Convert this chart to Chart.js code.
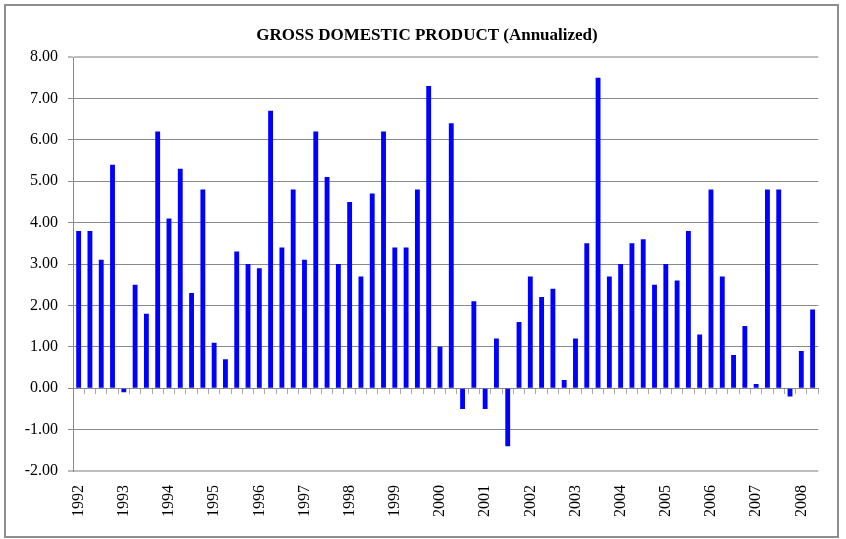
<!DOCTYPE html>
<html>
<head>
<meta charset="utf-8">
<script src="https://cdn.jsdelivr.net/npm/chart.js@4/dist/chart.umd.min.js"></script>
<style>
  html, body { margin: 0; padding: 0; background: #ffffff; }
  #wrap { position: relative; width: 846px; height: 539px; }
  #frame { position: absolute; left: 4px; top: 4px; width: 835px; height: 534px;
           box-sizing: border-box; border: 2px solid #8e8e8e; pointer-events: none; }
  canvas { position: absolute; left: 0; top: 0; }
</style>
</head>
<body>
<div id="wrap">
  <canvas id="c" width="846" height="539"></canvas>
  <div id="frame"></div>
</div>
<script>
// Quarterly categories, 1992 Q1 .. 2008 Q2
const categories = [
  '1992Q1','1992Q2','1992Q3','1992Q4','1993Q1','1993Q2','1993Q3','1993Q4',
  '1994Q1','1994Q2','1994Q3','1994Q4','1995Q1','1995Q2','1995Q3','1995Q4',
  '1996Q1','1996Q2','1996Q3','1996Q4','1997Q1','1997Q2','1997Q3','1997Q4',
  '1998Q1','1998Q2','1998Q3','1998Q4','1999Q1','1999Q2','1999Q3','1999Q4',
  '2000Q1','2000Q2','2000Q3','2000Q4','2001Q1','2001Q2','2001Q3','2001Q4',
  '2002Q1','2002Q2','2002Q3','2002Q4','2003Q1','2003Q2','2003Q3','2003Q4',
  '2004Q1','2004Q2','2004Q3','2004Q4','2005Q1','2005Q2','2005Q3','2005Q4',
  '2006Q1','2006Q2','2006Q3','2006Q4','2007Q1','2007Q2','2007Q3','2007Q4',
  '2008Q1','2008Q2'
];
// GDP growth, annualized (%)
const gdpValues = [
  3.8, 3.8, 3.1, 5.4, -0.1, 2.5, 1.8, 6.2,
  4.1, 5.3, 2.3, 4.8, 1.1, 0.7, 3.3, 3.0,
  2.9, 6.7, 3.4, 4.8, 3.1, 6.2, 5.1, 3.0,
  4.5, 2.7, 4.7, 6.2, 3.4, 3.4, 4.8, 7.3,
  1.0, 6.4, -0.5, 2.1, -0.5, 1.2, -1.4, 1.6,
  2.7, 2.2, 2.4, 0.2, 1.2, 3.5, 7.5, 2.7,
  3.0, 3.5, 3.6, 2.5, 3.0, 2.6, 3.8, 1.3,
  4.8, 2.7, 0.8, 1.5, 0.1, 4.8, 4.8, -0.2,
  0.9, 1.9
];
// Year tick labels, one every 4 quarters
const tickLabels = ['1992','1993','1994','1995','1996','1997','1998','1999','2000',
                    '2001','2002','2003','2004','2005','2006','2007','2008'];
const quartersPerLabel = 4;
const yMin = -2, yMax = 8, yStep = 1;

const serif = "'Liberation Serif', 'Times New Roman', serif";

// shift the title box so it is centred like the reference
const titleShift = {
  id: 'titleShift',
  afterLayout(chart) {
    if (chart.titleBlock) { chart.titleBlock.left += 34; }
  }
};

new Chart(document.getElementById('c'), {
  type: 'bar',
  data: {
    labels: categories,
    datasets: [{
      label: 'GDP',
      data: gdpValues,
      backgroundColor: '#0000ff',
      borderWidth: 0,
      barPercentage: 0.43,
      categoryPercentage: 1.0,
      xAxisID: 'x',
      yAxisID: 'y'
    }]
  },
  plugins: [titleShift],
  options: {
    responsive: false,
    animation: false,
    events: [],
    layout: { padding: { top: 25, right: 26, bottom: 0, left: 0 } },
    plugins: {
      legend: { display: false },
      tooltip: { enabled: false },
      title: {
        display: true,
        text: 'GROSS DOMESTIC PRODUCT (Annualized)',
        color: '#000000',
        font: { family: serif, size: 17, weight: 'bold' },
        padding: { top: 0, bottom: 11.6 }
      }
    },
    scales: {
      y: {
        min: yMin, max: yMax,
        ticks: {
          stepSize: yStep,
          color: '#000000',
          font: { family: serif, size: 16 },
          padding: 10,
          callback: v => Number(v).toFixed(2)
        },
        grid: {
          color: ctx => (ctx.tick && (ctx.tick.value === yMax || ctx.tick.value === yMin)) ? '#bdbdbd' : '#8a8a8a',
          lineWidth: ctx => (ctx.tick && (ctx.tick.value === yMax || ctx.tick.value === yMin)) ? 2 : 1,
          tickLength: 5,
          drawTicks: true
        },
        border: { display: true, color: '#8a8a8a', width: 1 },
        afterFit: s => { s.width = 73; }
      },
      x: {
        type: 'category',
        position: { y: 0 },
        offset: true,
        ticks: { display: false },
        grid: {
          offset: true,
          drawOnChartArea: false,
          drawTicks: true,
          tickLength: 5,
          color: '#a8a8a8'
        },
        border: { display: true, color: '#8a8a8a', width: 1 },
        afterFit: s => { s.height = 0; }
      },
      x2: {
        type: 'category',
        position: 'bottom',
        offset: true,
        grid: { display: false, drawTicks: false },
        border: { display: false },
        ticks: {
          autoSkip: false,
          maxRotation: 90,
          minRotation: 90,
          padding: 14,
          color: '#000000',
          font: { family: serif, size: 16 },
          callback: (v, i) => (i % quartersPerLabel === 0) ? tickLabels[i / quartersPerLabel] : ''
        },
        afterFit: s => { s.height = 68; }
      }
    }
  }
});
</script>
</body>
</html>
